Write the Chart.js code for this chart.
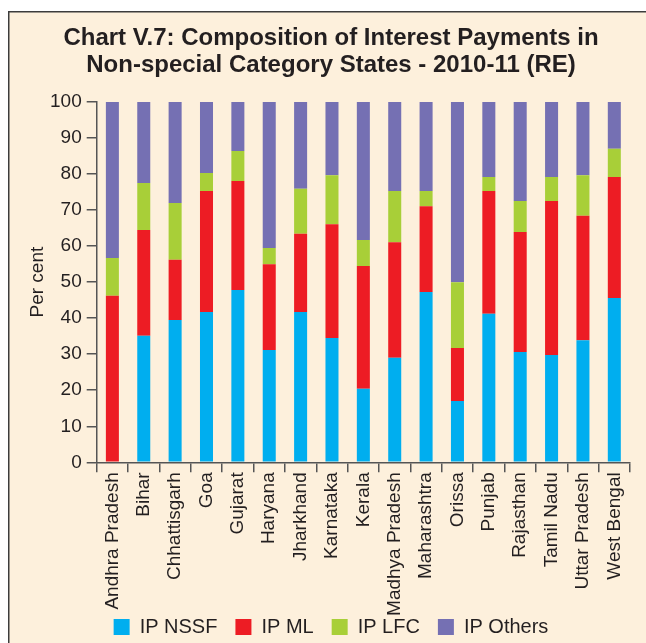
<!DOCTYPE html>
<html>
<head>
<meta charset="utf-8">
<script src="https://cdn.jsdelivr.net/npm/chart.js@4/dist/chart.umd.min.js"></script>
<style>
html,body{margin:0;padding:0;background:#ffffff;}
#wrap{width:646px;height:643px;position:relative;}
</style>
</head>
<body>
<div id="wrap"><canvas id="c" width="646" height="643"></canvas></div>
<script>
const states = ["Andhra Pradesh","Bihar","Chhattisgarh","Goa","Gujarat","Haryana","Jharkhand","Karnataka","Kerala","Madhya Pradesh","Maharashtra","Orissa","Punjab","Rajasthan","Tamil Nadu","Uttar Pradesh","West Bengal"];
const ipNSSF   = [0.0, 35.1, 39.5, 41.7, 47.8, 31.2, 41.7, 34.5, 20.4, 29.0, 47.3, 17.0, 41.2, 30.6, 29.8, 33.9, 45.6];
const ipML     = [46.2, 29.4, 16.7, 33.6, 30.3, 23.8, 21.7, 31.6, 34.1, 32.1, 23.8, 14.7, 34.1, 33.3, 42.7, 34.5, 33.6];
const ipLFC    = [10.5, 13.0, 15.8, 5.0, 8.3, 4.5, 12.5, 13.6, 7.2, 14.2, 4.2, 18.3, 3.9, 8.6, 6.7, 11.3, 7.8];
const ipOthers = [43.3, 22.5, 28.0, 19.7, 13.6, 40.5, 24.1, 20.3, 38.3, 24.7, 24.7, 50.0, 20.8, 27.5, 20.8, 20.3, 13.0];
const seriesNames = ["IP NSSF","IP ML","IP LFC","IP Others"];
const yTicks = [0,10,20,30,40,50,60,70,80,90,100];
const titleLines = ["Chart V.7: Composition of Interest Payments in","Non-special Category States - 2010-11 (RE)"];

const FONT = "'Liberation Sans', Arial, Helvetica, sans-serif";
const TXT = '#231f20';
const AXIS = '#555555';
Chart.defaults.font.family = FONT;
Chart.defaults.color = TXT;

const framePlugin = {
  id: 'frame',
  beforeDraw(chart) {
    const ctx = chart.ctx;
    ctx.save();
    ctx.fillStyle = '#ffffff';
    ctx.fillRect(0, 0, chart.width, chart.height);
    ctx.fillStyle = '#fdf0dc';
    ctx.fillRect(8.5, 11.5, chart.width, chart.height);
    ctx.strokeStyle = '#3c3c3c';
    ctx.lineWidth = 1.5;
    ctx.beginPath();
    ctx.moveTo(8.75, chart.height);
    ctx.lineTo(8.75, 11.75);
    ctx.lineTo(chart.width, 11.75);
    ctx.stroke();
    ctx.restore();
  }
};

// the tick-label band reaches down into the legend row; extend the legend box upward
const LEGEND_LIFT = 19.3;
const legendShift = {
  id: 'legendShift',
  afterLayout(chart) {
    const lg = chart.legend;
    if (lg) {
      lg.top -= LEGEND_LIFT;
      lg.height += LEGEND_LIFT;
    }
  }
};

const colors = ['#00aeef', '#ed1c24', '#a8cf38', '#7570b3'];
const values = [ipNSSF, ipML, ipLFC, ipOthers];

new Chart(document.getElementById('c'), {
  type: 'bar',
  data: {
    labels: states,
    datasets: seriesNames.map((n, i) => ({
      label: n,
      data: values[i],
      backgroundColor: colors[i],
      borderWidth: 0,
      categoryPercentage: 1,
      barPercentage: 0.415
    }))
  },
  options: {
    responsive: false,
    animation: false,
    devicePixelRatio: 1,
    layout: { padding: { left: 16, right: 0, top: 0, bottom: 0 } },
    plugins: {
      tooltip: { enabled: false },
      title: {
        display: true,
        text: titleLines,
        color: TXT,
        font: { size: 24, weight: 'bold', lineHeight: 1.125 },
        padding: { top: 24.5, bottom: 23.5 }
      },
      legend: {
        position: 'bottom',
        maxHeight: 24.7,
        labels: {
          boxWidth: 16,
          boxHeight: 16,
          padding: 18,
          color: TXT,
          font: { size: 20 }
        }
      }
    },
    scales: {
      x: {
        stacked: true,
        grid: { display: true, drawOnChartArea: false, drawTicks: true, tickLength: 10, color: AXIS, lineWidth: 1.5, offset: true },
        border: { display: true, color: AXIS, width: 1.5 },
        ticks: { maxRotation: 90, minRotation: 90, padding: 0, autoSkip: false, color: TXT, font: { size: 19 } },
        afterFit(s) { s.height = 156; }
      },
      y: {
        stacked: true,
        min: 0,
        max: 100,
        afterBuildTicks(s) { s.ticks = yTicks.map(v => ({ value: v })); },
        grid: { drawOnChartArea: false, drawTicks: true, tickLength: 10, color: AXIS, lineWidth: 1.5 },
        border: { display: true, color: AXIS, width: 1.5 },
        ticks: { padding: 5, color: TXT, font: { size: 19 } },
        title: { display: true, text: 'Per cent', color: TXT, font: { size: 19 }, padding: { top: 10.6, bottom: 0 } },
        afterFit(s) { s.width = 80.7; }
      },
      y2: {
        type: 'linear',
        position: 'right',
        display: true,
        grid: { display: false, drawTicks: false },
        border: { display: false },
        ticks: { display: false },
        afterFit(s) { s.width = 16; }
      }
    }
  },
  plugins: [framePlugin, legendShift]
});
</script>
</body>
</html>
